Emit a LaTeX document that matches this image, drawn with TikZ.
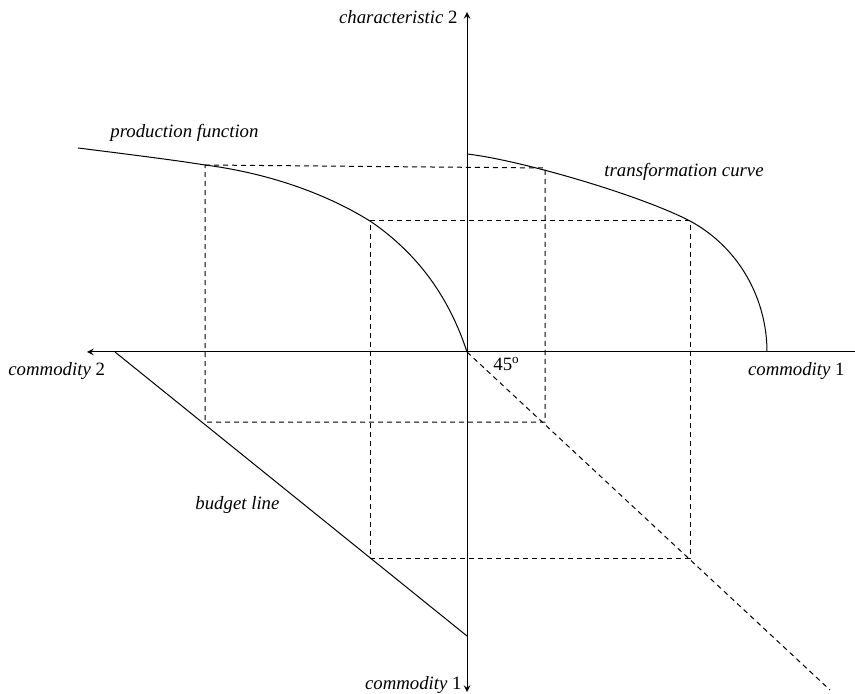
\documentclass[tikz,border=0pt]{standalone}
\usepackage{fontspec}
\setmainfont{Liberation Serif}
\usepackage{tikz}

\begin{document}
\begin{tikzpicture}[x=0.5pt, y=-0.5pt,
axis/.style={line width=0.5pt, >=stealth},
curve/.style={line width=0.5pt},
guide/.style={line width=0.5pt, dash pattern=on 2.5pt off 2pt},
lbl/.style={font=\fontsize{9.4}{11}\selectfont, inner sep=0pt}]
\useasboundingbox (0,0) rectangle (855,694);
% axes
\coordinate (O) at (467,352);
\coordinate (top) at (467,12);
\coordinate (bot) at (467,692);
\coordinate (left) at (87,352);
\coordinate (right) at (855,352);
\draw[axis,->] (O) -- (top);
\draw[axis,->] (O) -- (bot);
\draw[axis,->] (right) -- (left);
% points on the curves
\coordinate (t0) at (467,154);
\coordinate (t1) at (545,168);
\coordinate (t2) at (690,221);
\coordinate (t3) at (767,352);
\coordinate (p0) at (78,148);
\coordinate (p1) at (205,165);
\coordinate (p2) at (370,221);
% transformation curve and production function
\draw[curve] (t0) .. controls (520,160) and (640,195) .. (t2) .. controls (740,248) and (767,300) .. (t3);
\draw[curve] (p0) .. controls (150,157) and (180,161) .. (p1) .. controls (260,172) and (320,190) .. (p2) .. controls (420,255) and (450,300) .. (O);
% budget line and 45 degree line
\coordinate (b0) at (115,352);
\coordinate (b1) at (467,636);
\coordinate (d1) at (830,690);
\draw[curve] (b0) -- (b1);
\draw[guide] (O) -- (d1);
% dashed rectangles
\coordinate (q1) at (205,422);
\coordinate (r1) at (545,422);
\coordinate (q2) at (370,558);
\coordinate (r2) at (690,558);
\draw[guide] (p1) -- (t1) -- (r1) -- (q1) -- cycle;
\draw[guide] (p2) -- (t2) -- (r2) -- (q2) -- cycle;
% labels
\node[lbl, anchor=east] (char2) at (458,17) {\textit{characteristic} 2};
\node[lbl, anchor=west] (com2) at (8,371) {\textit{commodity} 2};
\node[lbl, anchor=east] (com1r) at (845,371) {\textit{commodity} 1};
\node[lbl, anchor=east] (com1b) at (462,685) {\textit{commodity} 1};
\node[lbl, anchor=west] (angle) at (493,364) {45\textsuperscript{o}};
\node[lbl, anchor=west] (prod) at (110,133) {\textit{production function}};
\node[lbl, anchor=west] (trans) at (604,172) {\textit{transformation curve}};
\node[lbl, anchor=base west] (budget) at (195,509) {\textit{budget line}};
\end{tikzpicture}
\end{document}
